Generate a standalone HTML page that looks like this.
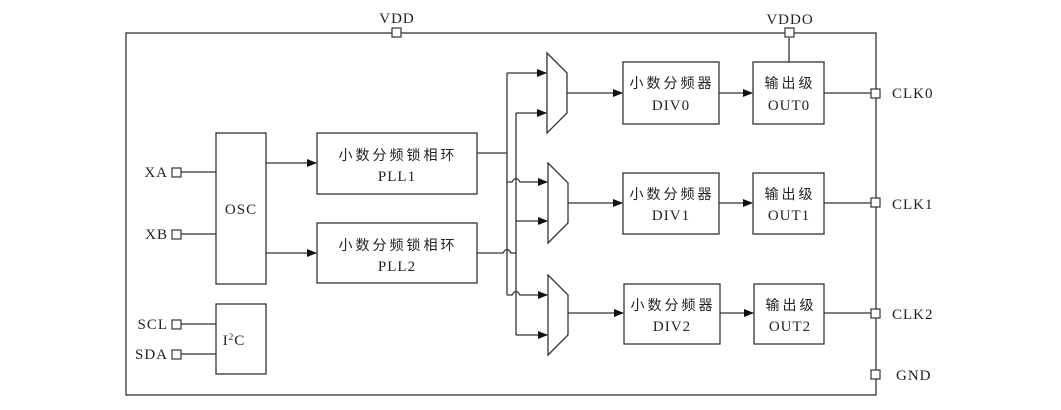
<!DOCTYPE html>
<html><head><meta charset="utf-8"><style>
html,body{margin:0;padding:0;background:#fff;}
svg{display:block}
text{font-family:"Liberation Serif","Noto Serif CJK SC",serif;fill:#222;font-size:15px;letter-spacing:1px}
.c{font-family:"Liberation Serif","Noto Sans CJK SC",sans-serif;font-size:14px;letter-spacing:3px}
</style></head><body>
<svg width="1061" height="410" viewBox="0 0 1061 410" xmlns="http://www.w3.org/2000/svg">
<defs><marker id="a" markerWidth="10" markerHeight="8" refX="9" refY="4" orient="auto" markerUnits="userSpaceOnUse"><path d="M0,0 L10,4 L0,8 z" fill="#111"/></marker></defs>
<g stroke="#333" stroke-width="1.3" fill="none">
<rect x="126" y="33" width="750" height="362"/>
<rect x="216" y="133" width="50" height="151"/>
<rect x="216" y="304" width="50" height="70"/>
<rect x="317" y="133" width="160" height="61"/>
<rect x="317" y="223" width="160" height="60"/>
<rect x="623" y="62" width="96" height="62"/>
<rect x="623" y="173" width="96" height="61"/>
<rect x="624" y="284" width="96" height="60"/>
<rect x="753" y="62" width="71" height="62"/>
<rect x="753" y="173" width="71" height="61"/>
<rect x="754" y="284" width="70" height="60"/>
<path d="M547,53 L567,73 L567,113 L547,133 Z"/>
<path d="M548,163 L568,183 L568,223 L548,243 Z"/>
<path d="M548,275 L568,295 L568,335 L548,355 Z"/>
<path d="M181,172 H216 M181,234 H216 M181,324 H216 M181,354 H216"/>
<path d="M266,163 H316" marker-end="url(#a)"/>
<path d="M266,253 H316" marker-end="url(#a)"/>
<path d="M477,153 H507 M507,73 V295"/>
<path d="M477,253 H503 Q507,246 511,253 H516 M516,113 V335"/>
<path d="M507,73 H546" marker-end="url(#a)"/>
<path d="M516,113 H546" marker-end="url(#a)"/>
<path d="M507,182 H512 Q516,175 520,182 H547" marker-end="url(#a)"/>
<path d="M516,221 H547" marker-end="url(#a)"/>
<path d="M507,295 H512 Q516,288 520,295 H547" marker-end="url(#a)"/>
<path d="M516,335 H547" marker-end="url(#a)"/>
<path d="M567,93 H622" marker-end="url(#a)"/>
<path d="M568,203 H622" marker-end="url(#a)"/>
<path d="M568,313 H623" marker-end="url(#a)"/>
<path d="M719,93 H752" marker-end="url(#a)"/>
<path d="M719,203 H752" marker-end="url(#a)"/>
<path d="M720,313 H753" marker-end="url(#a)"/>
<path d="M824,93 H872 M824,203 H872 M824,313 H872 M789,38 V62"/>
</g>
<g stroke="#333" stroke-width="1.2" fill="#fff">
<rect x="392" y="28" width="9" height="9"/>
<rect x="785" y="28" width="9" height="9"/>
<rect x="172" y="168" width="9" height="9"/>
<rect x="172" y="230" width="9" height="9"/>
<rect x="172" y="320" width="9" height="9"/>
<rect x="172" y="350" width="9" height="9"/>
<rect x="871" y="89" width="9" height="9"/>
<rect x="871" y="198" width="9" height="9"/>
<rect x="871" y="309" width="9" height="9"/>
<rect x="871" y="370" width="9" height="9"/>
</g>
<text x="397" y="23" text-anchor="middle">VDD</text>
<text x="790" y="24" text-anchor="middle">VDDO</text>
<text x="168" y="177" text-anchor="end">XA</text>
<text x="168" y="239" text-anchor="end">XB</text>
<text x="168" y="329" text-anchor="end">SCL</text>
<text x="168" y="359" text-anchor="end">SDA</text>
<text x="241" y="214" text-anchor="middle">OSC</text>
<text x="234" y="345" text-anchor="middle">I<tspan font-size="9" dy="-5">2</tspan><tspan dy="5">C</tspan></text>
<text class="c" x="398" y="160" text-anchor="middle">小数分频锁相环</text>
<text x="397" y="181" text-anchor="middle">PLL1</text>
<text class="c" x="398" y="250" text-anchor="middle">小数分频锁相环</text>
<text x="397" y="271" text-anchor="middle">PLL2</text>
<text class="c" x="672" y="88" text-anchor="middle">小数分频器</text>
<text x="671" y="110" text-anchor="middle">DIV0</text>
<text class="c" x="672" y="199" text-anchor="middle">小数分频器</text>
<text x="671" y="220" text-anchor="middle">DIV1</text>
<text class="c" x="673" y="310" text-anchor="middle">小数分频器</text>
<text x="672" y="331" text-anchor="middle">DIV2</text>
<text class="c" x="790" y="88" text-anchor="middle">输出级</text>
<text x="789" y="110" text-anchor="middle">OUT0</text>
<text class="c" x="790" y="199" text-anchor="middle">输出级</text>
<text x="789" y="220" text-anchor="middle">OUT1</text>
<text class="c" x="791" y="310" text-anchor="middle">输出级</text>
<text x="790" y="331" text-anchor="middle">OUT2</text>
<text x="892" y="98">CLK0</text>
<text x="892" y="209">CLK1</text>
<text x="892" y="319">CLK2</text>
<text x="896" y="380">GND</text>
</svg>
</body></html>
